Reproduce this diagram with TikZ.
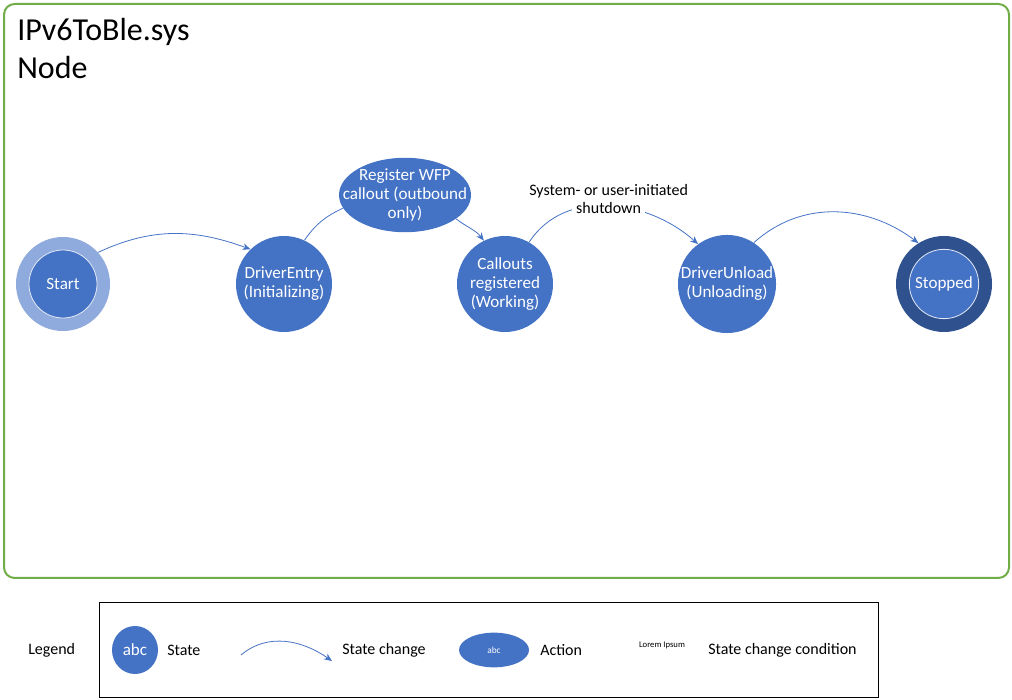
\documentclass[tikz,border=0pt]{standalone}
\usepackage{fontspec}
\setmainfont{Carlito}
\usetikzlibrary{positioning, arrows.meta, shapes.geometric}
\definecolor{stateblue}{HTML}{4472C4}
\definecolor{startblue}{HTML}{8FAADC}
\definecolor{stopblue}{HTML}{2F528F}
\definecolor{framegreen}{HTML}{70AD47}

\tikzset{
  nodefont/.style={font=\fontsize{12.8}{14.3}\selectfont},
  labelfont/.style={font=\fontsize{12}{15}\selectfont},
  statenode/.style={circle, fill=stateblue, text=white, minimum size=72pt,
                    inner sep=0pt, align=center, nodefont},
  ringnode/.style={circle, inner sep=0pt, minimum size=#1},
  innernode/.style={circle, fill=stateblue, draw=white!85!stateblue, line width=0.6pt,
                    text=white, inner sep=0pt, minimum size=#1, nodefont},
  actionnode/.style={ellipse, fill=stateblue, text=white, inner xsep=-12pt, inner ysep=0pt,
                     minimum width=99pt, minimum height=55.5pt, align=center, nodefont},
  change/.style={draw=stateblue, line width=0.6pt, -{Stealth[length=6pt, width=5pt]}},
  plainlink/.style={draw=stateblue, line width=0.6pt},
  legendtext/.style={anchor=west, inner sep=0pt, labelfont}
}

\begin{document}
\begin{tikzpicture}[x=0.75pt, y=0.75pt]
  \useasboundingbox (0,0) rectangle (1012,699);

  % outer frame of the node
  \draw[framegreen, line width=1.5pt, rounded corners=8pt] (4,121) rectangle (1009,695);
  \node[anchor=north west, align=left, inner sep=0pt,
        font=\fontsize{24}{28.5}\selectfont] (title) at (17,681) {IPv6ToBle.sys\\Node};

  % states
  \node[ringnode=70.5pt, fill=startblue] (startring) at (63,415) {};
  \node[innernode=51pt] (start) at (startring) {Start};
  \node[statenode] (entry) at (284,415) {DriverEntry\\(Initializing)};
  \node[actionnode] (register) at (405,504) {Register WFP\\callout (outbound\\only)};
  \node[statenode] (working) at (505,415) {Callouts\\registered\\(Working)};
  \node[statenode] (unload) at (727,415) {DriverUnload\\(Unloading)};
  \node[ringnode=72pt, fill=stopblue] (stopring) at (944,415) {};
  \node[innernode=52pt] (stopped) at (stopring) {Stopped};

  % state changes
  \draw[change] (startring.42) to[out=25, in=160] (entry.134);
  \draw[plainlink] (entry.65) to[out=55, in=205] (register.192);
  \draw[change] (register.335) to[out=-38, in=128] (working.116);
  \draw[change] (working.60) to[out=57, in=138]
      node[pos=0.5, above=-9pt, inner sep=0pt, align=center, labelfont] (shutdown)
      {System- or user-initiated\\[-2pt]{\fboxsep=3pt\colorbox{white}{shutdown}}} (unload.126);
  \draw[change] (unload.57) to[out=42, in=143] (stopring.122);

  % legend
  \draw[black, line width=0.75pt] (99,2) rectangle (878,97);
  \node[legendtext] (legend) at (28,49) {Legend};
  \node[ellipse, fill=stateblue, text=white, inner sep=0pt, minimum width=34.5pt,
        minimum height=36pt, nodefont] (legstate) at (135,49) {abc};
  \node[legendtext] (legstatetext) at (167,49) {State};
  \coordinate (legfrom) at (241,44);
  \coordinate (legto) at (332,38);
  \draw[change] (legfrom) to[out=40, in=145] (legto);
  \node[legendtext] (legchangetext) at (342,49) {State change};
  \node[ellipse, fill=stateblue, text=white, inner sep=0pt, minimum width=52.5pt,
        minimum height=26pt, font=\fontsize{7}{8}\selectfont] (legaction) at (494,49) {abc};
  \node[legendtext] (legactiontext) at (540,49) {Action};
  \node[inner sep=0pt, font=\fontsize{6.5}{8}\selectfont] (lorem) at (662,54) {Lorem Ipsum};
  \node[legendtext] (legcondtext) at (708,49) {State change condition};
\end{tikzpicture}
\end{document}
